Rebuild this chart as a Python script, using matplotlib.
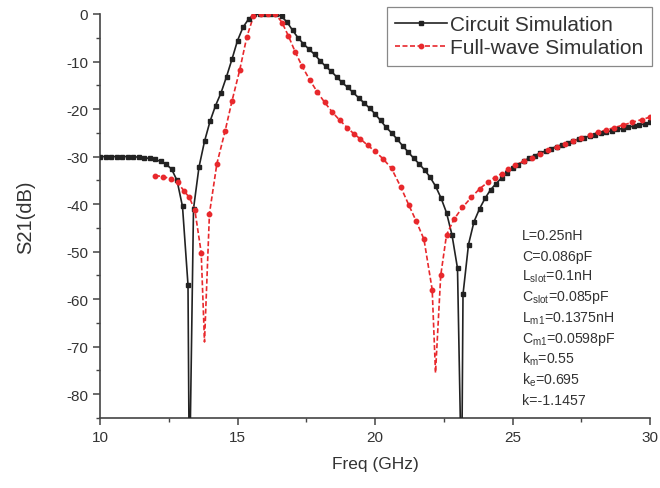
import matplotlib
matplotlib.use("Agg")
import matplotlib.pyplot as plt
from matplotlib.ticker import MultipleLocator
import numpy as np

circuit_freq = [round(10 + 0.2 * i, 1) for i in range(101)]
circuit_s21 = [
    -30.0, -30.0, -30.0, -30.0, -30.0, -30.0, -30.05, -30.1, -30.2, -30.4,   # 10.0 - 11.8
    -30.6, -31.0, -31.6, -32.6, -35.0, -40.5, -57.0, -41.0, -32.2, -26.8,    # 12.0 - 13.8
    -22.6, -19.3, -16.6, -13.2, -9.5, -5.6, -2.8, -1.1, -0.1, 0.0,           # 14.0 - 15.8
    0.0, 0.0, 0.0, -0.5, -1.7, -3.4, -5.0, -6.3, -7.4, -8.5,                 # 16.0 - 17.8
    -9.8, -11.0, -12.0, -13.2, -14.4, -15.4, -16.5, -17.6, -18.7, -19.8,     # 18.0 - 19.8
    -21.0, -22.4, -23.8, -25.0, -26.3, -27.7, -29.0, -30.3, -31.5, -32.8,    # 20.0 - 21.8
    -34.3, -36.2, -38.7, -41.8, -46.5, -53.5, -59.0, -48.5, -43.7, -41.0,    # 22.0 - 23.8
    -38.8, -37.0, -35.7, -34.5, -33.4, -32.5, -31.7, -31.0, -30.3, -29.8,    # 24.0 - 25.8
    -29.3, -28.8, -28.3, -27.9, -27.5, -27.1, -26.7, -26.3, -26.0, -25.7,    # 26.0 - 27.8
    -25.4, -25.1, -24.8, -24.6, -24.3, -24.1, -23.8, -23.6, -23.4, -23.1,    # 28.0 - 29.8
    -22.8,                                                                   # 30.0
]
# resonance nulls (line only, they run off the bottom of the axes)
circuit_null_freq = [13.25, 23.15]
circuit_null_s21 = [-100.0, -100.0]

# Full-wave simulation samples
fullwave_freq = [
    12.0, 12.3, 12.57, 12.82, 13.05, 13.25, 13.45, 13.68, 13.98, 14.25,
    14.55, 14.8, 15.08, 15.34, 15.58, 15.85, 16.1, 16.38, 16.62, 16.85,
    17.1, 17.35, 17.62, 17.9, 18.17, 18.44, 18.71, 18.99, 19.23, 19.47,
    19.73, 20.0, 20.3, 20.6, 20.93, 21.23, 21.5, 21.78, 22.08, 22.39,
    22.6, 22.87, 23.18, 23.5, 23.8, 24.1, 24.35, 24.6, 24.85, 25.1,
    25.4, 25.7, 26.0, 26.3, 26.6, 26.9, 27.2, 27.5, 27.8, 28.1,
    28.4, 28.7, 29.0, 29.35, 29.7, 30.0,
]
fullwave_s21 = [
    -34.0, -34.2, -34.7, -35.4, -37.2, -38.6, -41.3, -50.2, -42.0, -31.5,
    -24.6, -18.3, -11.8, -4.8, -0.5, 0.0, 0.0, 0.0, -1.8, -4.6,
    -8.0, -11.0, -13.8, -16.4, -18.6, -20.6, -22.3, -23.9, -25.2, -26.3,
    -27.6, -28.9, -30.5, -32.5, -36.3, -40.2, -43.6, -47.4, -58.0, -55.0,
    -46.5, -43.2, -40.7, -38.6, -36.8, -35.4, -34.4, -33.6, -32.7, -31.8,
    -31.0, -30.2, -29.4, -28.7, -28.0, -27.3, -26.7, -26.1, -25.5, -24.9,
    -24.4, -23.9, -23.4, -22.8, -22.2, -21.7,
]
fullwave_null_freq = [13.8, 22.2]
fullwave_null_s21 = [-69.0, -75.5]

params_text = [
    r"L=0.25nH",
    r"C=0.086pF",
    r"L$_{\mathregular{slot}}$=0.1nH",
    r"C$_{\mathregular{slot}}$=0.085pF",
    r"L$_{\mathregular{m1}}$=0.1375nH",
    r"C$_{\mathregular{m1}}$=0.0598pF",
    r"k$_{\mathregular{m}}$=0.55",
    r"k$_{\mathregular{e}}$=0.695",
    r"k=-1.1457",
]

plt.rcParams["font.family"] = ["Liberation Sans", "DejaVu Sans"]
plt.rcParams["mathtext.fontset"] = "custom"
plt.rcParams["mathtext.rm"] = "Liberation Sans"
plt.rcParams["mathtext.default"] = "regular"

TXT = "#333333"
AXC = "#444444"
BLK = "#222222"
RED = "#e8282c"
DASH = (0, (3, 1.5))


def merged(f, s, nf, ns):
    x = np.concatenate([f, nf])
    y = np.concatenate([s, ns])
    order = np.argsort(x)
    return x[order], y[order]


fig = plt.figure(figsize=(6.6, 4.89), dpi=100)
ax = fig.add_axes([100 / 660, 1 - 419 / 489, 550 / 660, 404 / 489])

# lines (with nulls) and markers (sampled points only)
cx, cy = merged(circuit_freq, circuit_s21, circuit_null_freq, circuit_null_s21)
ax.plot(cx, cy, color=BLK, lw=1.2, zorder=3)
ax.plot(circuit_freq, circuit_s21, ls="none", marker="s", ms=2.6,
        color=BLK, zorder=4)

fx, fy = merged(fullwave_freq, fullwave_s21, fullwave_null_freq, fullwave_null_s21)
ax.plot(fx, fy, color=RED, lw=1.2, ls=DASH, zorder=3)
ax.plot(fullwave_freq, fullwave_s21, ls="none", marker="o", ms=3.2,
        color=RED, zorder=4)

# legend proxies
h1, = ax.plot([], [], color=BLK, lw=1.2, marker="s", ms=2.6)
h2, = ax.plot([], [], color=RED, lw=1.2, ls=DASH, marker="o", ms=3.2)
leg = ax.legend([h1, h2], ["Circuit Simulation", "Full-wave Simulation"],
                loc="upper right", bbox_to_anchor=(652 / 660, 1 - 8 / 489),
                bbox_transform=fig.transFigure, borderaxespad=0,
                fancybox=False, framealpha=1, edgecolor="#888888",
                fontsize=15, handlelength=2.5, handletextpad=0.15,
                labelspacing=0.2, borderpad=0.4)
for t in leg.get_texts():
    t.set_color(TXT)
leg.get_frame().set_linewidth(0.9)

ax.set_xlim(10, 30)
ax.set_ylim(-85, 0)
ax.xaxis.set_major_locator(MultipleLocator(5))
ax.xaxis.set_minor_locator(MultipleLocator(2.5))
ax.yaxis.set_major_locator(MultipleLocator(10))
ax.yaxis.set_minor_locator(MultipleLocator(5))
ax.set_yticks(np.arange(-80, 1, 10))
ax.set_yticklabels([str(v) for v in range(-80, 1, 10)])

for side in ("top", "right"):
    ax.spines[side].set_visible(False)
for side in ("left", "bottom"):
    ax.spines[side].set_color(AXC)
    ax.spines[side].set_linewidth(1.2)
ax.tick_params(which="major", direction="out", length=5, width=1.1,
               color=AXC, labelcolor=TXT, labelsize=11)
ax.tick_params(which="minor", direction="out", length=3, width=1.0, color=AXC)

ax.set_xlabel("Freq (GHz)", fontsize=12.5, color=TXT, labelpad=9)
ax.set_ylabel("S21(dB)", fontsize=14.5, color=TXT, labelpad=22)

for i, line in enumerate(params_text):
    fig.text(522 / 660, 1 - (236 + 20.6 * i) / 489, line, fontsize=10.2,
             color=TXT, va="center", ha="left")

fig.savefig("out.png", dpi=100)
